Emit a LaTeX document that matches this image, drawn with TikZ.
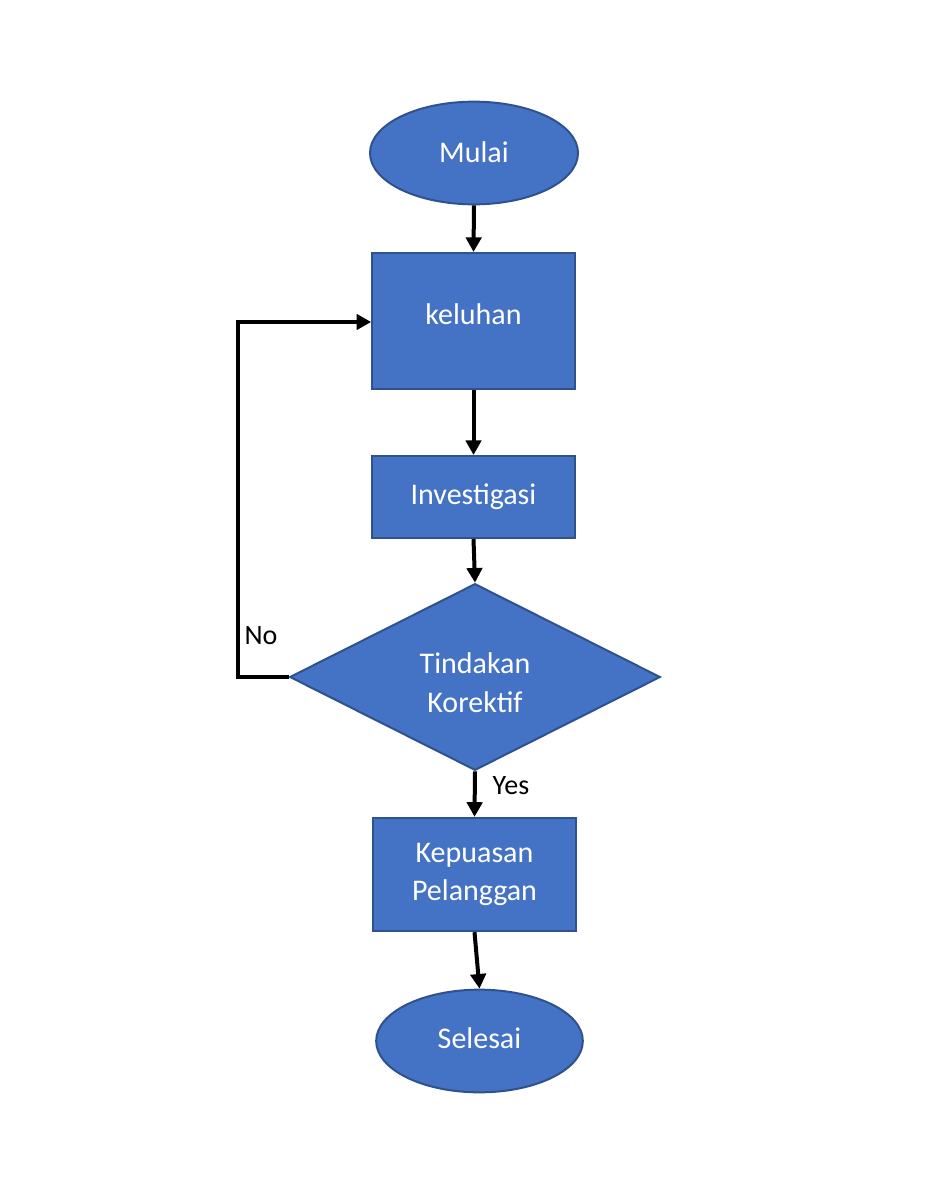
\documentclass[tikz,border=0pt]{standalone}
\usepackage{fontspec}
\setmainfont{Carlito}
\usetikzlibrary{shapes.geometric,arrows.meta}
\definecolor{boxfill}{HTML}{4472C4}
\definecolor{boxline}{HTML}{2F528F}
\begin{document}
\begin{tikzpicture}[x=0.75pt,y=-0.75pt,
  shapebase/.style={fill=boxfill,draw=boxline,line width=1.5pt,text=white,
    font=\fontsize{22.5}{29}\selectfont,align=center,inner sep=0pt},
  terminal/.style={shapebase,ellipse,minimum width=156pt,minimum height=77pt},
  process/.style={shapebase,rectangle,minimum width=152pt},
  decision/.style={shapebase,diamond,minimum width=278pt,minimum height=140pt,aspect=2},
  flow/.style={line width=3pt,-{Triangle[length=11pt,width=11.5pt]}},
  lbl/.style={font=\fontsize{21}{25}\selectfont,inner sep=0pt}]
  % page
  \path[fill=white] (0,0) rectangle (943,1200);
  % nodes
  \node[terminal] (start) at (474,153) {\raisebox{1pt}{Mulai}};
  \node[process,minimum height=102pt] (keluhan) at (473.5,321) {\raisebox{10.5pt}{keluhan}};
  \node[process,minimum height=61.5pt] (invest) at (473.5,497) {\raisebox{3pt}{Investigasi}};
  \node[decision] (dec) at (475,677) {};
  \node[shapebase,fill=none,draw=none] (dectext) at (475,682.5) {Tindakan\\Korektif};
  \node[process,minimum height=85pt] (puas) at (474.5,874.5) {Kepuasan\\Pelanggan};
  \node[terminal,minimum width=155pt] (end) at (479.5,1041) {\raisebox{5pt}{Selesai}};
  % loop corners
  \coordinate (lb) at (238,677);
  \coordinate (lt) at (238,322);
  % connectors
  \draw[flow] (start.south) -- (keluhan.north);
  \draw[flow] (keluhan.south) -- (invest.north);
  \draw[flow] (invest.south) -- (dec.north);
  \draw[flow] (dec.south) -- (puas.north);
  \draw[flow] (puas.south) -- (end.north);
  \draw[flow,line join=miter] (dec.west) -- (lb) -- (lt) -- (keluhan.west |- lt);
  % branch labels
  \node[lbl] (no) at (261,636) {No};
  \node[lbl] (yes) at (511,786) {Yes};
\end{tikzpicture}
\end{document}
